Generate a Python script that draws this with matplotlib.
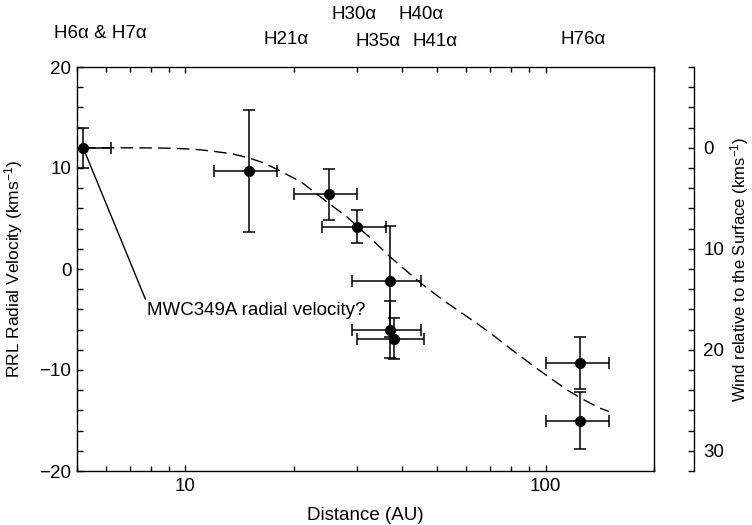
import numpy as np
import matplotlib

matplotlib.use("Agg")
import matplotlib.pyplot as plt
from matplotlib.ticker import FixedLocator, MultipleLocator, NullFormatter, FuncFormatter
from matplotlib.transforms import blended_transform_factory

plt.rcParams.update({
    "font.family": ["Liberation Sans", "DejaVu Sans"],
    "font.size": 13.5, "mathtext.default": "regular",
    "axes.linewidth": 1.0, "xtick.major.width": 1.0, "ytick.major.width": 1.0,
    "xtick.minor.width": 1.0, "ytick.minor.width": 1.0,
})

# RRL measurements: distance (AU) and radial velocity (km/s)
dist = [5.2, 15, 25, 30, 37, 37, 38, 125, 125]
dist_lo = [4.2, 12, 20, 24, 29, 29, 30, 100, 100]
dist_hi = [6.2, 18, 30, 36, 45, 45, 46, 150, 150]
vel = [12, 9.7, 7.4, 4.2, -1.2, -6.0, -6.9, -9.3, -15.0]
vel_err = [2.0, 6.0, 2.5, 1.6, 5.5, 2.85, 2.0, 2.6, 2.8]

# dashed model curve
curve_dist = [5.2, 7, 8.5, 10, 11, 12, 13.5, 15, 16.5, 18, 21, 25, 28, 33, 37, 45, 52, 61, 70, 82, 95,
              115, 130, 142, 150]
curve_vel = [12, 12, 11.98, 11.9, 11.8, 11.65, 11.4, 11.0, 10.5, 9.85, 8.6, 6.5, 5.2, 2.9, 1.2, -1.4, -3.1,
             -4.8, -6.3, -8.2, -9.9, -12.0, -13.1, -13.8, -14.1]

# line identifications above the plot
line_names = ["H6α & H7α", "H21α", "H30α", "H40α", "H35α", "H41α", "H76α"]
line_x = [5.8, 19.0, 29.4, 45.0, 34.2, 49.3, 127]
line_row = [1.084, 1.067, 1.129, 1.129, 1.062, 1.062, 1.067]

v_sys = 12  # systemic velocity: wind = v_sys - v

fig = plt.figure(figsize=(7.52, 5.25), dpi=100)
ax = fig.add_axes([77 / 752, 1 - 471 / 525, 577 / 752, 404 / 525])

x = np.array(dist)
xerr = [x - np.array(dist_lo), np.array(dist_hi) - x]
ax.plot(curve_dist, curve_vel, color="k", lw=1.0, dashes=(9, 4.5))
ax.errorbar(x, vel, yerr=vel_err, xerr=xerr, fmt="o", color="k", ms=7,
            elinewidth=1.1, capsize=4.5, capthick=1.1, zorder=3)

ax.set_xscale("log")
ax.set_xlim(5, 200)
ax.set_ylim(-20, 20)
ax.xaxis.set_major_locator(FixedLocator([10, 100]))
ax.xaxis.set_major_formatter(FuncFormatter(lambda v, p: f"{v:g}"))
ax.xaxis.set_minor_locator(FixedLocator([5, 6, 7, 8, 9, 20, 30, 40, 50, 60, 70, 80, 90, 200]))
ax.xaxis.set_minor_formatter(NullFormatter())
ax.yaxis.set_major_locator(MultipleLocator(10))
ax.yaxis.set_minor_locator(MultipleLocator(2))
ax.tick_params(which="both", direction="in", top=True, right=True)
ax.tick_params(axis="x", which="major", length=4.5, pad=5)
ax.tick_params(axis="x", which="minor", length=3.5)
ax.tick_params(axis="y", which="both", length=4.5, pad=4)

ax.set_xlabel("Distance (AU)")
ax.set_ylabel("RRL Radial Velocity (kms$^{-1}$)", fontsize=12.5)
ax.xaxis.set_label_coords(0.5, -0.09)
ax.yaxis.set_label_coords(-0.09, 0.5)

ax.annotate("MWC349A radial velocity?", xy=(5.2, 12), xytext=(7.8, -4.1),
            ha="left", va="center",
            arrowprops=dict(arrowstyle="-", color="k", lw=1.0, shrinkA=0, shrinkB=4, relpos=(0, 1)))

trans = blended_transform_factory(ax.transData, ax.transAxes)
for name, lx, ly in zip(line_names, line_x, line_row):
    ax.text(lx, ly, name, transform=trans, ha="center", va="center", clip_on=False)

# wind scale on an offset right axis
ax2 = ax.twinx()
ax2.set_ylim(v_sys + 20, v_sys - 20)
for s in ["left", "top", "bottom"]:
    ax2.spines[s].set_visible(False)
ax2.spines["right"].set_position(("outward", 29))
ax2.yaxis.set_major_locator(FixedLocator([0, 10, 20, 30]))
ax2.yaxis.set_minor_locator(MultipleLocator(2))
ax2.tick_params(which="both", direction="in", length=4.5, pad=6.5)
ax2.set_ylabel("Wind relative to the Surface (kms$^{-1}$)", fontsize=12)
ax2.yaxis.set_label_coords(1.128, 0.5)

plt.savefig("out.png", dpi=100)
